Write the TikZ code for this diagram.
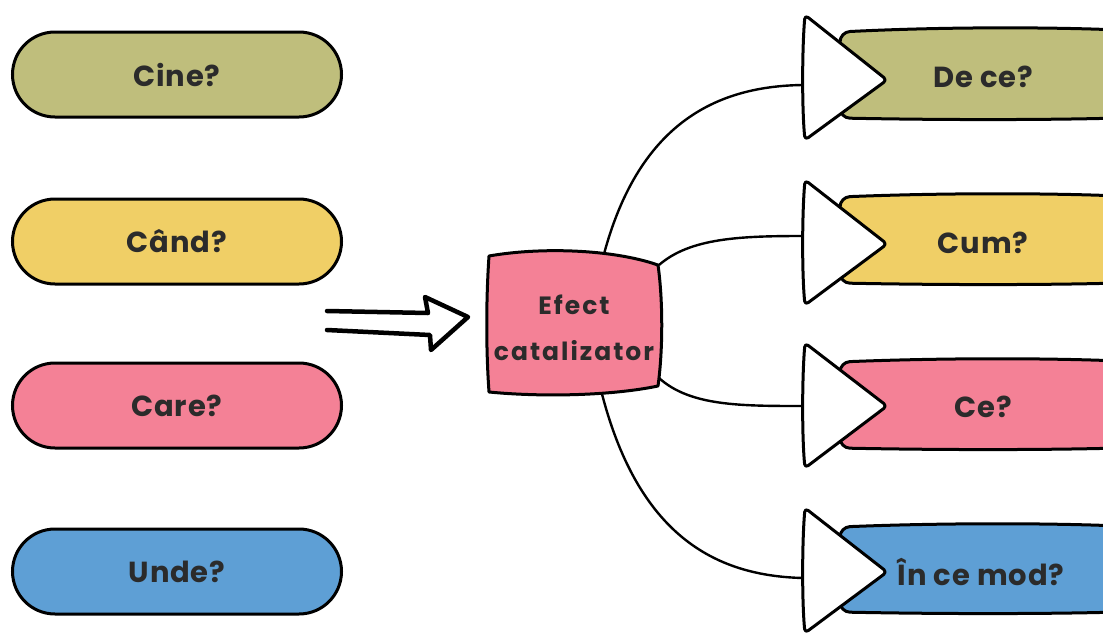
\documentclass[tikz,border=0pt]{standalone}
\usepackage{fontspec}
\setmainfont{Poppins}
\usetikzlibrary{shapes.misc}
\definecolor{olive}{HTML}{BFBE7C}
\definecolor{yel}{HTML}{F0CF66}
\definecolor{pnk}{HTML}{F48196}
\definecolor{blu}{HTML}{5E9FD5}
\definecolor{ink}{HTML}{2B2B2B}
\tikzset{
  pill/.style={rounded rectangle, draw=black, line width=3pt, minimum width=329pt, minimum height=85pt, inner sep=0pt, font=\fontsize{29}{32}\selectfont\bfseries\addfontfeatures{LetterSpace=3}, text=ink},
  band/.style={draw=black, line width=3pt, rounded corners=10pt},
  tri/.style={draw=black, fill=white, line width=3pt, rounded corners=4pt, line join=round},
  lbl/.style={font=\fontsize{29}{32}\selectfont\bfseries\addfontfeatures{LetterSpace=3}, text=ink, inner sep=0pt},
  conn/.style={draw=black, line width=2.4pt},
}
\begin{document}
\begin{tikzpicture}[x=1pt,y=-1pt]
\useasboundingbox (0,0) rectangle (1103,632);
% left pills
\node[pill, fill=olive] (cine) at (177,74.5) {Cine?};
\node[pill, fill=yel] (cand) at (177,241.5) {Când?};
\node[pill, fill=pnk] (care) at (177,405.5) {Care?};
\node[pill, fill=blu] (unde) at (177,571.5) {Unde?};
% double arrow
\draw[line width=4.5pt, line join=round, line cap=round] (327,311) -- (428,313) -- (425,297) -- (468,317) -- (431,350) -- (430,335) -- (327,330);
% center box
\draw[fill=pnk, line width=3pt, line join=round] (489,256) .. controls (540,247) and (612,249) .. (658,265) .. controls (663,300) and (663,350) .. (658,386) .. controls (610,396) and (540,397) .. (489,392) .. controls (486,350) and (486,300) .. (489,256) -- cycle;
\node[align=center, text=ink, inner sep=0pt, font=\fontsize{25}{46}\selectfont\bfseries\addfontfeatures{LetterSpace=8}] (box) at (574,328) {Efect\\catalizator};
\coordinate (bt) at (604,254);
\coordinate (brt) at (659,265);
\coordinate (brb) at (659,378);
\coordinate (bb) at (602,394);
% right bands
\draw[band, fill=olive] (840,32) .. controls (940,27) and (1040,27) .. (1120,30) -- (1120,118) .. controls (1040,120) and (940,120) .. (840,118) -- cycle;
\draw[band, fill=yel] (840,197) .. controls (940,193) and (1040,193) .. (1120,196) -- (1120,283) .. controls (1040,285) and (940,285) .. (840,283) -- cycle;
\draw[band, fill=pnk] (840,362) .. controls (940,358) and (1040,358) .. (1120,361) -- (1120,448) .. controls (1040,450) and (940,450) .. (840,448) -- cycle;
\draw[band, fill=blu] (840,527) .. controls (940,523) and (1040,523) .. (1120,526) -- (1120,612) .. controls (1040,614) and (940,614) .. (840,612) -- cycle;
\node[lbl] (dece) at (983,77) {De ce?};
\node[lbl] (cum) at (983,243) {Cum?};
\node[lbl] (ce) at (983,407) {Ce?};
\node[lbl] (mod) at (981,572) {În ce mod?};
% triangles
\draw[tri] (805,15) .. controls (802,50) and (802,110) .. (805,140) -- (887,80) -- cycle;
\draw[tri] (805,180) .. controls (802,215) and (802,275) .. (805,305) -- (887,244) -- cycle;
\draw[tri] (805,343) .. controls (802,378) and (802,438) .. (805,468) -- (887,406) -- cycle;
\draw[tri] (805,508) .. controls (802,543) and (802,603) .. (805,633) -- (887,572) -- cycle;
\coordinate (t1) at (803,85);
\coordinate (t2) at (803,236);
\coordinate (t3) at (803,406);
\coordinate (t4) at (803,578);
% connectors
\draw[conn] (bt) .. controls (640,120) and (720,86) .. (t1);
\draw[conn] (brt) .. controls (690,238) and (740,236) .. (t2);
\draw[conn] (brb) .. controls (690,406) and (740,406) .. (t3);
\draw[conn] (bb) .. controls (640,540) and (720,576) .. (t4);
\end{tikzpicture}
\end{document}
